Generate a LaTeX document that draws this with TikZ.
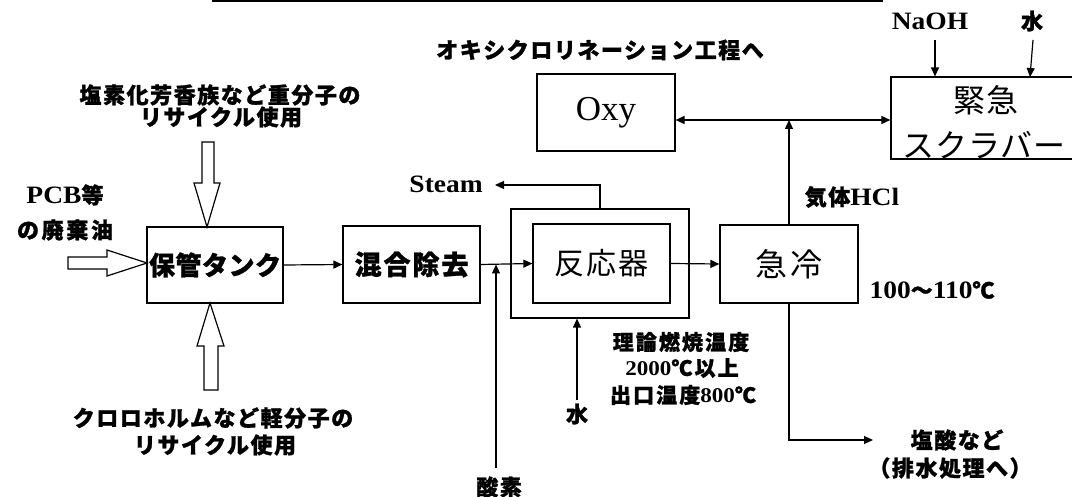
\documentclass[tikz,border=0pt]{standalone}
\usepackage{fontspec}
\usetikzlibrary{arrows.meta}
\setmainfont{Liberation Serif}
\newfontfamily\latf{Liberation Serif}[FakeStretch=1.1]
\newfontfamily\jpf{Noto Sans CJK JP}[BoldFeatures={FakeBold=1.2}]
\newcommand\jpB[2]{\jpf\bfseries\fontsize{#1}{#1}\selectfont\addfontfeature{LetterSpace=#2}}
\newcommand\jpR[2]{\jpf\fontsize{#1}{#1}\selectfont\addfontfeature{LetterSpace=#2}}
\newcommand\latb{\latf\bfseries}
\newcommand\latB[1]{{\latf\bfseries\fontsize{25}{25}\selectfont #1}}
\tikzset{
  box/.style={draw, line width=1.2pt, rectangle, inner sep=0pt},
  conn/.style={line width=1.2pt, -{Triangle[length=9pt,width=8pt]}},
  dconn/.style={line width=1.2pt, {Triangle[length=9pt,width=8pt]}-{Triangle[length=9pt,width=8pt]}},
  hollow/.style={draw, line width=1.2pt, fill=white, line join=miter},
  lbl/.style={inner sep=0pt, font=\jpB{22}{7}},
  small/.style={inner sep=0pt, font=\jpB{21}{10}},
}
\begin{document}
\begin{tikzpicture}[x=1pt,y=-1pt]
\useasboundingbox (0,0) rectangle (1072,497);

% top rule
\coordinate (tl1) at (212,1);
\coordinate (tl2) at (883,1);
\draw[line width=2pt] (tl1) -- (tl2);

% boxes
\node[box, minimum width=138, minimum height=77] (oxy) at (606,112.5) {\fontsize{35}{35}\selectfont Oxy};
\node[box, minimum width=189, minimum height=82] (scrub) at (985.5,118) {};
\node[inner sep=0pt, font=\jpR{32}{4}] (scrubt1) at (986,100) {緊急};
\node[inner sep=0pt, font=\jpR{32}{3}] (scrubt2) at (984,145) {スクラバー};
\node[box, minimum width=136, minimum height=76, font=\jpB{26}{2}] (tank) at (215,265) {保管タンク};
\node[box, minimum width=137, minimum height=77, font=\jpB{27}{7}] (mix) at (411.5,264.5) {混合除去};
\node[box, minimum width=178, minimum height=109] (outer) at (600,263.5) {};
\node[box, minimum width=137, minimum height=79, font=\jpR{30}{7}] (inner) at (601.5,263.5) {反応器};
\node[box, minimum width=138, minimum height=78, font=\jpR{32}{9}] (quench) at (789,264) {急冷};

% main flow
\draw[conn] (tank.east) -- (mix.west);
\draw[conn] (mix.east) -- (inner.west);
\draw[conn] (inner.east) -- (quench.west);

% Oxy / scrubber
\coordinate (hub) at (789,120);
\draw[dconn] (oxy.east |- hub) -- (scrub.west |- hub);
\draw[conn] (quench.north) -- (hub);
\node[inner sep=0pt, font=\jpB{22}{7}] (hcl) at (852,197) {気体\latB{HCl}};

% top labels
\node[lbl] (oxyt) at (600,50) {オキシクロリネーション工程へ};
\node[inner sep=0pt] (naoh) at (930,21) {\latB{NaOH}};
\node[lbl] (water2) at (1032,21) {水};
\coordinate (naohs) at (935,40);
\coordinate (w2s) at (1033,40);
\coordinate (w2e) at (1030,77);
\draw[conn] (naohs) -- (naohs |- scrub.north);
\draw[conn] (w2s) -- (w2e);

% steam
\coordinate (steamend) at (495,185);
\draw[conn] (outer.north) |- (steamend);
\node[inner sep=0pt, anchor=east] (steam) at (483,184) {\latB{Steam}};

% oxygen
\coordinate (o2) at (496,468);
\draw[conn] (o2) -- (o2 |- mix.east);
\node[lbl] (o2t) at (499,487) {酸素};

% water to reactor
\coordinate (w1) at (577,400);
\draw[conn] (w1) -- (w1 |- outer.south);
\node[lbl] (w1t) at (577,414) {水};

% reactor notes
\node[small] (n1) at (681,342) {理論燃焼温度};
\node[small] (n2) at (682,368) {{\latb 2000}℃以上};
\node[small] (n3) at (683,395) {出口温度{\latb 800}℃};

% quench outputs
\node[lbl] (temp) at (932,290) {\latB{100}〜\latB{110}℃};
\coordinate (acid) at (873,440);
\draw[conn] (quench.south) |- (acid);
\node[lbl] (acid1) at (957,440) {塩酸など};
\node[lbl] (acid2) at (950,468) {（排水処理へ）};

% feeds
\node[inner sep=0pt, font=\jpB{22}{7}] (pcb1) at (65,195) {\latB{PCB}等};
\node[lbl, font=\jpB{22}{12}] (pcb2) at (65,230) {の廃棄油};
\node[lbl] (top1) at (220,95) {塩素化芳香族など重分子の};
\node[lbl] (top2) at (221,117) {リサイクル使用};
\node[lbl] (bot1) at (213,418) {クロロホルムなど軽分子の};
\node[lbl] (bot2) at (215,445) {リサイクル使用};

% hollow arrows
\draw[hollow] (202,142) -- (214,142) -- (214,183) -- (220,183) -- (207,227) -- (194,183) -- (202,183) -- cycle;
\draw[hollow] (204,390) -- (218,390) -- (218,346) -- (224,346) -- (210,303) -- (197,346) -- (204,346) -- cycle;
\draw[hollow] (68,257) -- (107,257) -- (107,250) -- (147,263) -- (107,276) -- (107,269) -- (68,269) -- cycle;
\end{tikzpicture}
\end{document}
